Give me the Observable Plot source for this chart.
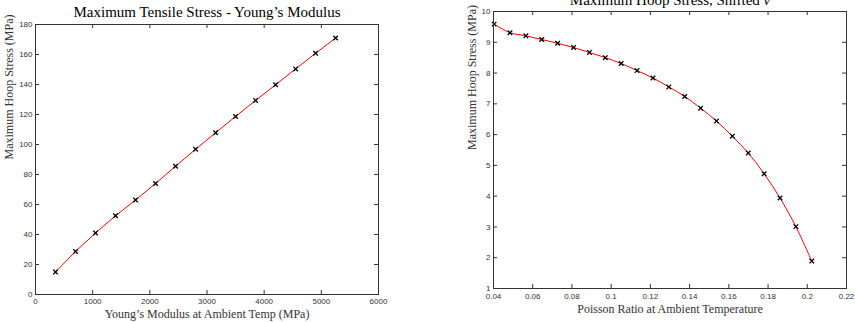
<!DOCTYPE html>
<html>
<head>
<meta charset="utf-8">
<script src="https://cdn.jsdelivr.net/npm/d3@7"></script>
<script src="https://cdn.jsdelivr.net/npm/@observablehq/plot@0.6"></script>
<style>
  html, body { margin: 0; padding: 0; background: white; }
  #wrap { position: relative; width: 855px; height: 322px; overflow: hidden; background: white; }
  #left, #right { position: absolute; top: 0; }
  #left { left: 0; }
  #right { left: 430px; }
</style>
</head>
<body>
<div id="wrap"><div id="left"></div><div id="right"></div></div>
<script>
// ---- data ----
const youngsModulus = [350, 700, 1050, 1400, 1750, 2100, 2450, 2800, 3150, 3500, 3850, 4200, 4550, 4900, 5250];
const tensileStress = [15, 28.7, 41, 52.5, 63, 74, 85.5, 96.8, 107.8, 118.7, 129.4, 139.8, 150.4, 160.8, 171];

const poissonRatio = [0.0403, 0.0484, 0.0565, 0.0646, 0.0727, 0.0808, 0.0889, 0.0970, 0.1051, 0.1132, 0.1213,
                      0.1294, 0.1375, 0.1456, 0.1537, 0.1618, 0.1699, 0.1780, 0.1861, 0.1942, 0.2023];
const hoopStress = [9.59, 9.31, 9.21, 9.09, 8.97, 8.83, 8.67, 8.50, 8.31, 8.08, 7.84,
                    7.55, 7.24, 6.86, 6.44, 5.95, 5.40, 4.73, 3.94, 3.01, 1.89];

const leftXTicks = [0, 1000, 2000, 3000, 4000, 5000, 6000];
const leftYTicks = [0, 20, 40, 60, 80, 100, 120, 140, 160, 180];
const rightXTicks = [0.04, 0.06, 0.08, 0.1, 0.12, 0.14, 0.16, 0.18, 0.2, 0.22];
const rightYTicks = [1, 2, 3, 4, 5, 6, 7, 8, 9, 10];

const leftTitle = "Maximum Tensile Stress - Young\u2019s Modulus";
const leftXLabel = "Young\u2019s Modulus at Ambient Temp (MPa)";
const leftYLabel = "Maximum Hoop Stress (MPa)";
const rightTitle = "Maximum Hoop Stress, Shifted \u03bd";
const rightXLabel = "Poisson Ratio at Ambient Temperature";
const rightYLabel = "Maximum Hoop Stress (MPa)";

const serif = "'Liberation Serif', 'DejaVu Serif', serif";
const sans = "'Liberation Sans', Arial, sans-serif";
const axisColor = "#333";

function chart(o) {
  const data = o.xs.map((x, i) => ({x, y: o.ys[i]}));
  const ph = o.height - o.mt - o.mb;
  const pw = o.width - o.ml - o.mr;
  const tl = 4;
  return Plot.plot({
    width: o.width, height: o.height,
    marginLeft: o.ml, marginRight: o.mr, marginTop: o.mt, marginBottom: o.mb,
    style: {background: "white", overflow: "visible"},
    x: {domain: o.xDomain},
    y: {domain: o.yDomain},
    marks: [
      Plot.axisX(o.xTicks, {anchor: "bottom", tickSize: 0, tickPadding: o.xTickPad, fontSize: 8, fontFamily: sans, fill: axisColor, tickFormat: d => String(d), label: null}),
      Plot.axisY(o.yTicks, {anchor: "left", tickSize: 0, tickPadding: o.yTickPad, fontSize: 8, fontFamily: sans, fill: axisColor, tickFormat: d => String(d), label: null}),
      Plot.tickX(o.xTicks, {x: d => d, insetTop: ph - tl, stroke: axisColor}),
      Plot.tickX(o.xTicks, {x: d => d, insetBottom: ph - tl, stroke: axisColor}),
      Plot.tickY(o.yTicks, {y: d => d, insetRight: pw - tl, stroke: axisColor}),
      Plot.tickY(o.yTicks, {y: d => d, insetLeft: pw - tl, stroke: axisColor}),
      Plot.line(data, {x: "x", y: "y", stroke: "#ff0000", strokeWidth: 1, curve: o.curve}),
      Plot.dot(data, {x: "x", y: "y", symbol: "times", r: 2.2, stroke: "black", strokeWidth: 1.3}),
      Plot.frame({stroke: axisColor, strokeWidth: 1}),
      Plot.text([o.title], {text: d => d, frameAnchor: "top", dy: o.titleDy, lineAnchor: "middle", fontFamily: serif, fontSize: 15, fill: "black"}),
      Plot.text([o.xLabel], {text: d => d, frameAnchor: "bottom", dy: o.xLabelDy, lineAnchor: "middle", fontFamily: serif, fontSize: 12, fill: "#333"}),
      Plot.text([o.yLabel], {text: d => d, frameAnchor: "left", dx: o.yLabelDx, rotate: -90, lineAnchor: "middle", fontFamily: serif, fontSize: 12, fill: "#333"})
    ]
  });
}

const left = chart({
  xs: youngsModulus, ys: tensileStress,
  width: 430, height: 322, ml: 35, mr: 52, mt: 24, mb: 28,
  xDomain: [0, 6000], yDomain: [0, 180],
  xTicks: leftXTicks, yTicks: leftYTicks,
  xTickPad: 4, yTickPad: 3,
  title: leftTitle, titleDy: -12,
  xLabel: leftXLabel, xLabelDy: 20,
  yLabel: leftYLabel, yLabelDx: -26,
  curve: "linear"
});
document.getElementById("left").appendChild(left);

const right = chart({
  xs: poissonRatio, ys: hoopStress,
  width: 425, height: 322, ml: 63, mr: 9, mt: 11, mb: 34,
  xDomain: [0.04, 0.22], yDomain: [1, 10],
  xTicks: rightXTicks, yTicks: rightYTicks,
  xTickPad: 5, yTickPad: 3,
  title: rightTitle, titleDy: -11.8,
  xLabel: rightXLabel, xLabelDy: 20.3,
  yLabel: rightYLabel, yLabelDx: -21.3,
  curve: "catmull-rom"
});
document.getElementById("right").appendChild(right);

// italic nu in the right title
right.querySelectorAll("text").forEach(t => {
  if (t.textContent === rightTitle) {
    t.textContent = "";
    t.appendChild(document.createTextNode("Maximum Hoop Stress, Shifted "));
    const ts = document.createElementNS("http://www.w3.org/2000/svg", "tspan");
    ts.setAttribute("font-style", "italic");
    ts.textContent = "\u03bd";
    t.appendChild(ts);
  }
});
</script>
</body>
</html>
